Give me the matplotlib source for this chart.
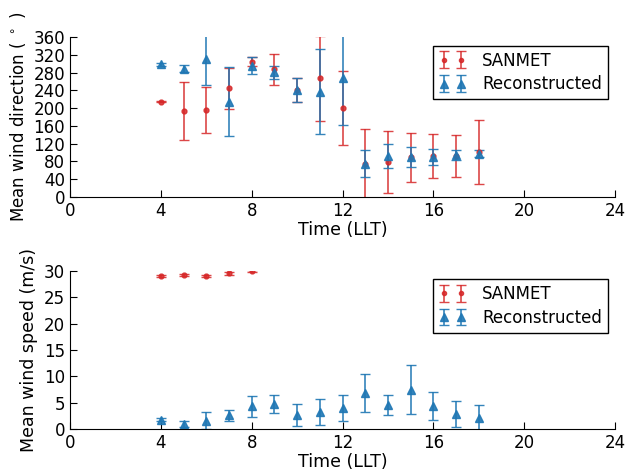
import numpy as np
import matplotlib
matplotlib.use('Agg')
import matplotlib.pyplot as plt

hours_san = [4, 5, 6, 7, 8, 9, 10, 11, 12, 13, 14, 15, 16, 17, 18]
dir_san = [215, 194, 196, 245, 305, 288, 240, 267, 201, 75, 78, 89, 92, 92, 102]
dir_san_err = [2, 65, 51, 46, 10, 35, 27, 95, 83, 78, 70, 55, 50, 47, 72]

hours_rec = [4, 5, 6, 7, 8, 9, 10, 11, 12, 13, 14, 15, 16, 17, 18]
dir_rec = [299, 289, 310, 215, 296, 281, 241, 237, 268, 75, 93, 90, 91, 94, 97]
dir_rec_err = [3, 8, 58, 77, 20, 15, 28, 96, 107, 30, 27, 23, 18, 11, 8]

hours_san_spd = [4, 5, 6, 7, 8]
spd_san = [29.1, 29.25, 29.1, 29.5, 29.95]
spd_san_err = [0.2, 0.2, 0.2, 0.3, 0.2]

spd_rec = [1.8, 0.95, 1.6, 2.6, 4.3, 4.7, 2.7, 3.2, 4.0, 6.9, 4.55, 7.5, 4.4, 2.8, 2.15]
spd_rec_err = [0.3, 0.5, 1.6, 1.1, 2.0, 1.7, 2.1, 2.5, 2.5, 3.6, 1.95, 4.7, 2.7, 2.45, 2.5]

red = '#d62728'
blue = '#1f77b4'

fig = plt.figure(figsize=(6.25, 4.71), dpi=100)
ax1 = fig.add_axes([0.112, 0.582, 0.872, 0.339])
ax2 = fig.add_axes([0.112, 0.089, 0.872, 0.336])


def style(ax):
    ax.spines['top'].set_visible(False)
    ax.spines['right'].set_visible(False)
    ax.tick_params(direction='in', top=False, right=False, labelsize=12, length=5)
    ax.set_xlim(0, 24)
    ax.set_xticks(range(0, 25, 4))
    ax.set_xlabel('Time (LLT)', fontsize=12.5, labelpad=1)


def add_legend(ax):
    ax.legend(loc='upper right', bbox_to_anchor=(0.987, 0.947), borderaxespad=0,
              numpoints=2, fontsize=12, fancybox=False, edgecolor='black',
              framealpha=1, handlelength=1.6, handletextpad=1.0,
              borderpad=0.35, labelspacing=0.35, markerscale=0.85)


ax1.errorbar(hours_san, dir_san, yerr=dir_san_err, fmt='o', color=red, ms=3.5,
             capsize=3.5, elinewidth=1.2, ecolor=red, alpha=0.85, label='SANMET')
ax1.errorbar(hours_rec, dir_rec, yerr=dir_rec_err, fmt='^', color=blue, ms=6,
             capsize=3.5, elinewidth=1.2, ecolor=blue, alpha=0.9, label='Reconstructed')
style(ax1)
ax1.set_ylim(0, 360)
ax1.set_yticks(range(0, 361, 40))
ax1.set_ylabel(r'Mean wind direction ( $^\circ$ )', fontsize=12)
add_legend(ax1)

ax2.errorbar(hours_san_spd, spd_san, yerr=spd_san_err, fmt='o', color=red, ms=3.5,
             capsize=3.5, elinewidth=1.2, ecolor=red, alpha=0.85, label='SANMET')
ax2.errorbar(hours_rec, spd_rec, yerr=spd_rec_err, fmt='^', color=blue, ms=6,
             capsize=3.5, elinewidth=1.2, ecolor=blue, alpha=0.9, label='Reconstructed')
style(ax2)
ax2.set_ylim(0, 30)
ax2.set_yticks(range(0, 31, 5))
ax2.set_ylabel('Mean wind speed (m/s)', fontsize=12.5)
add_legend(ax2)

fig.savefig('out.png', dpi=100)
